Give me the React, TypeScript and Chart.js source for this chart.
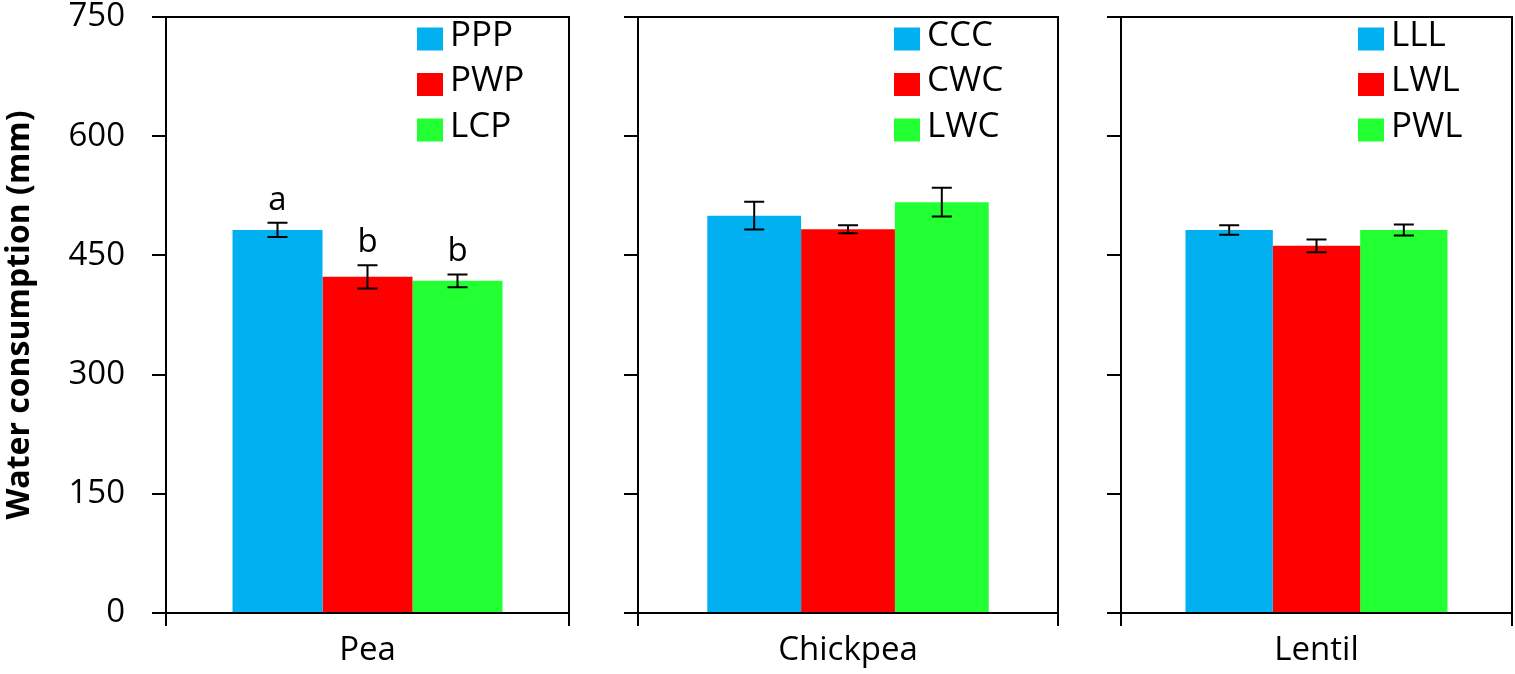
import { useEffect, useRef } from "react";
import { Chart, registerables } from "chart.js";

Chart.register(...registerables);

// values (mm)
const crops = ["Pea", "Chickpea", "Lentil"];
const peaTreatments = ["PPP", "PWP", "LCP"];
const chickpeaTreatments = ["CCC", "CWC", "LWC"];
const lentilTreatments = ["LLL", "LWL", "PWL"];
const peaWater = [482, 423, 418];
const chickpeaWater = [500, 483, 517];
const lentilWater = [482, 462, 482];
const peaError = [9, 14.5, 8];
const chickpeaError = [17.5, 5, 18];
const lentilError = [6, 8, 7];
const peaLetters = ["a", "b", "b"];
const yTicks = [0, 150, 300, 450, 600, 750];
const barColors = ["#00b0f0", "#ff0000", "#22ff33"];

const FONT = "'Open Sans', 'Noto Sans', sans-serif";

// error bars, significance letters, in-plot legend and the top/right frame
const decorPlugin = {
  id: "decor",
  afterDatasetsDraw(chart: any, _args: any, opts: any) {
    const { ctx, chartArea: a, scales } = chart;
    const y = scales.y;
    ctx.save();
    ctx.strokeStyle = "#000";
    ctx.lineWidth = 2;
    ctx.beginPath();
    ctx.moveTo(a.left, a.top);
    ctx.lineTo(a.right, a.top);
    ctx.lineTo(a.right, a.bottom);
    ctx.stroke();

    chart.data.datasets.forEach((ds: any, i: number) => {
      const bar = chart.getDatasetMeta(i).data[0];
      const v = ds.data[0];
      const yt = y.getPixelForValue(v + ds.err);
      const yb = y.getPixelForValue(v - ds.err);
      ctx.strokeStyle = "#000";
      ctx.lineWidth = 2;
      ctx.beginPath();
      ctx.moveTo(bar.x, yt);
      ctx.lineTo(bar.x, yb);
      ctx.moveTo(bar.x - 10, yt);
      ctx.lineTo(bar.x + 10, yt);
      ctx.moveTo(bar.x - 10, yb);
      ctx.lineTo(bar.x + 10, yb);
      ctx.stroke();

      if (ds.letter) {
        ctx.fillStyle = "#000";
        ctx.font = `33px ${FONT}`;
        ctx.textAlign = "center";
        ctx.textBaseline = "alphabetic";
        ctx.fillText(ds.letter, bar.x, yt - 13);
      }

      const lx = a.right - opts.legendRight;
      const cy = a.top + 22 + i * 45.5;
      ctx.fillStyle = ds.backgroundColor;
      ctx.fillRect(lx, cy - 11.5, 26, 23);
      ctx.fillStyle = "#000";
      ctx.font = `35px ${FONT}`;
      ctx.textAlign = "left";
      ctx.textBaseline = "middle";
      ctx.fillText(ds.label, lx + 33, cy - 3);
    });
    ctx.restore();
  },
};

interface PanelProps {
  left: number;
  width: number;
  axisWidth: number;
  padRight: number;
  legendRight: number;
  crop: string;
  treatments: string[];
  values: number[];
  errors: number[];
  letters?: string[];
  showY: boolean;
}

function Panel({ left, width, axisWidth, padRight, legendRight, crop, treatments, values, errors, letters, showY }: PanelProps) {
  const canvasRef = useRef<HTMLCanvasElement>(null);

  useEffect(() => {
    if (!canvasRef.current) return;
    const chart = new Chart(canvasRef.current, {
      type: "bar",
      data: {
        labels: [crop],
        datasets: treatments.map((t, i) => ({
          label: t,
          data: [values[i]],
          err: errors[i],
          letter: letters?.[i],
          backgroundColor: barColors[i],
          borderWidth: 0,
          categoryPercentage: 0.67,
          barPercentage: 1,
        })) as any,
      },
      options: {
        responsive: true,
        maintainAspectRatio: false,
        animation: false,
        layout: { padding: { top: 17, right: padRight, bottom: 0, left: 0 } },
        plugins: {
          legend: { display: false },
          tooltip: { enabled: false },
          decor: { legendRight },
        } as any,
        scales: {
          x: {
            grid: { drawOnChartArea: false, tickLength: 13, color: "#000", lineWidth: 2, offset: true },
            border: { display: true, color: "#000", width: 2 },
            ticks: { color: "#000", font: { family: FONT, size: 33 }, padding: 5 },
            afterFit: (s: any) => {
              s.height = 61;
              s.paddingLeft = 0;
              s.paddingRight = 0;
            },
          },
          y: {
            min: 0,
            max: 750,
            afterBuildTicks: (s: any) => {
              s.ticks = yTicks.map((v) => ({ value: v }));
            },
            grid: { drawOnChartArea: false, tickLength: 14, color: "#000", lineWidth: 2 },
            border: { display: true, color: "#000", width: 2 },
            ticks: {
              display: showY,
              color: "#000",
              font: { family: FONT, size: 33, lineHeight: 1 },
              padding: 27,
            },
            title: {
              display: showY,
              text: "Water consumption (mm)",
              color: "#000",
              font: { family: FONT, size: 32, weight: "bold" },
              padding: { top: 1, bottom: 0 },
            },
            afterFit: (s: any) => {
              s.width = axisWidth;
              s.paddingTop = 0;
              s.paddingBottom = 0;
            },
          },
        },
      },
      plugins: [decorPlugin as any],
    });
    return () => chart.destroy();
  }, [axisWidth, crop, errors, legendRight, letters, padRight, showY, treatments, values]);

  return (
    <div style={{ position: "absolute", left, top: 0, width, height: 674 }}>
      <canvas ref={canvasRef} />
    </div>
  );
}

export default function App() {
  return (
    <div style={{ position: "absolute", left: 0, top: 0, width: 1515, height: 674, background: "#fff", overflow: "hidden" }}>
      <Panel
        left={0}
        width={590}
        axisWidth={166}
        padRight={21}
        legendRight={152}
        crop={crops[0]}
        treatments={peaTreatments}
        values={peaWater}
        errors={peaError}
        letters={peaLetters}
        showY
      />
      <Panel
        left={590}
        width={480}
        axisWidth={48}
        padRight={12}
        legendRight={164}
        crop={crops[1]}
        treatments={chickpeaTreatments}
        values={chickpeaWater}
        errors={chickpeaError}
        showY={false}
      />
      <Panel
        left={1070}
        width={445}
        axisWidth={51}
        padRight={3}
        legendRight={154}
        crop={crops[2]}
        treatments={lentilTreatments}
        values={lentilWater}
        errors={lentilError}
        showY={false}
      />
    </div>
  );
}
